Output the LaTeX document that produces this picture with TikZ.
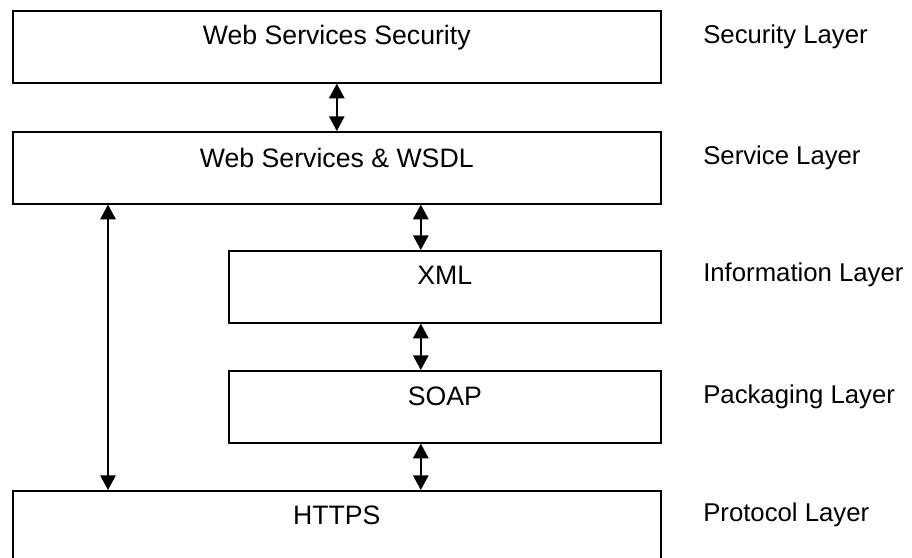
\documentclass[tikz,border=0pt]{standalone}
\usepackage{fontspec}
\setmainfont{Liberation Sans}
\usetikzlibrary{arrows.meta,positioning}
\begin{document}
\begin{tikzpicture}[x=0.75pt,y=-0.75pt,
    layer/.style={draw,line width=1.2pt,minimum height=54pt,inner sep=0pt,anchor=north west},
    title/.style={font=\fontsize{20}{24}\selectfont},
    side/.style={font=\fontsize{19.3}{23}\selectfont,anchor=west,inner sep=0pt},
    dbl/.style={{Triangle[width=11.5pt,length=11pt]}-{Triangle[width=11.5pt,length=11pt]},line width=1.2pt}]
    \clip (0,0) rectangle (912,557);

    % the five layers
    \node[layer,minimum width=486pt] (sec)   at (12,10)  {};
    \node[layer,minimum width=486pt] (wsdl)  at (12,131) {};
    \node[layer,minimum width=324pt] (xml)   at (228,250) {};
    \node[layer,minimum width=324pt] (soap)  at (228,370) {};
    \node[layer,minimum width=486pt] (https) at (12,490) {};

    \node[title] (sectxt)   at ([yshift=-20.5pt]sec.north) {Web Services Security};
    \node[title] (wsdltxt)  at ([yshift=-20pt]wsdl.north)  {Web Services \& WSDL};
    \node[title] (xmltxt)   at ([yshift=-19pt]xml.north)   {XML};
    \node[title] (soaptxt)  at ([yshift=-20pt]soap.north)  {SOAP};
    \node[title] (httpstxt) at ([yshift=-19pt]https.north) {HTTPS};

    % layer names on the right
    \coordinate (lblx) at (703,0);
    \node[side] (seclbl)   at (sectxt -| lblx)   {Security Layer};
    \node[side] (wsdllbl)  at (wsdltxt -| lblx)  {Service Layer};
    \node[side] (xmllbl)   at (xmltxt -| lblx)   {Information Layer};
    \node[side] (soaplbl)  at (soaptxt -| lblx)  {Packaging Layer};
    \node[side] (httpslbl) at (httpstxt -| lblx) {Protocol Layer};

    % connectors
    \draw[dbl] (sec.south) -- (wsdl.north);
    \draw[dbl] ([xshift=-18pt]xml.north |- wsdl.south) -- ([xshift=-18pt]xml.north);
    \draw[dbl] ([xshift=-18pt]xml.south) -- ([xshift=-18pt]soap.north);
    \draw[dbl] ([xshift=-18pt]soap.south) -- ([xshift=-18pt]soap.south |- https.north);
    \draw[dbl] ([xshift=72pt]wsdl.south west) -- ([xshift=72pt]wsdl.south west |- https.north);
  \end{tikzpicture}
\end{document}
